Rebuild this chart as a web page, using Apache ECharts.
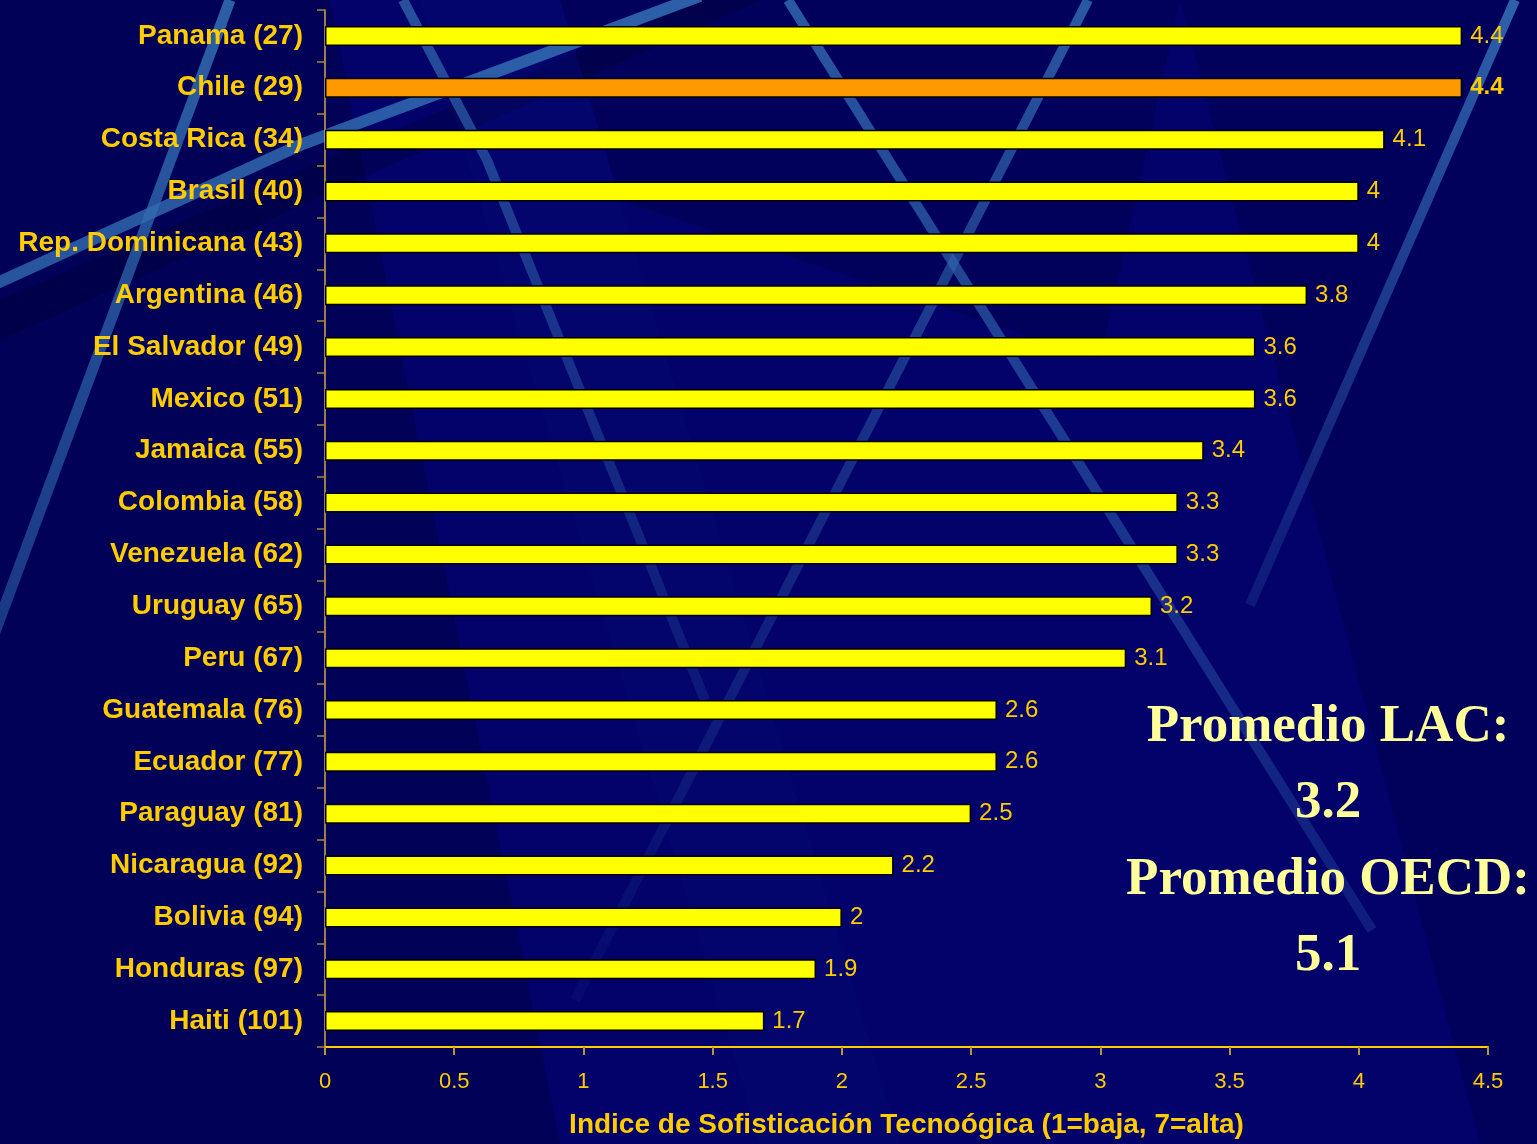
<!DOCTYPE html>
<html>
<head>
<meta charset="utf-8">
<title>Indice de Sofisticación Tecnológica</title>
<script src="https://cdn.jsdelivr.net/npm/echarts@6/dist/echarts.min.js"></script>
<style>
  html, body { margin: 0; padding: 0; background: #020268; overflow: hidden; }
  #chart { width: 1537px; height: 1144px; }
</style>
</head>
<body>
<div id="chart"></div>
<script>
// Países con su posición en el ranking entre paréntesis
const countries = [
  'Panama (27)', 'Chile (29)', 'Costa Rica (34)', 'Brasil (40)',
  'Rep. Dominicana (43)', 'Argentina (46)', 'El Salvador (49)', 'Mexico (51)',
  'Jamaica (55)', 'Colombia (58)', 'Venezuela (62)', 'Uruguay (65)',
  'Peru (67)', 'Guatemala (76)', 'Ecuador (77)', 'Paraguay (81)',
  'Nicaragua (92)', 'Bolivia (94)', 'Honduras (97)', 'Haiti (101)'
];
// Índice de sofisticación tecnológica (1 = baja, 7 = alta)
const scores = [4.4, 4.4, 4.1, 4, 4, 3.8, 3.6, 3.6, 3.4, 3.3, 3.3, 3.2, 3.1, 2.6, 2.6, 2.5, 2.2, 2, 1.9, 1.7];
const highlighted = 'Chile (29)';
const xTicks = { min: 0, max: 4.5, step: 0.5 };
const averages = ['Promedio LAC:', '3.2', 'Promedio OECD:', '5.1'];

const gold = '#FFCC00';
const sans = '"Liberation Sans", Arial, sans-serif';

// Fondo decorativo: bandas diagonales claras y sombras
function stripe(pts, w, c1, c2) {
  const a = pts[0], b = pts[pts.length - 1];
  return {
    type: 'polyline', z: -10, silent: true,
    shape: { points: pts },
    style: {
      lineWidth: w,
      stroke: new echarts.graphic.LinearGradient(a[0], a[1], b[0], b[1], [
        { offset: 0, color: c1 }, { offset: 1, color: c2 }
      ], true)
    }
  };
}
function shade(points, color) {
  return { type: 'polygon', z: -20, silent: true, shape: { points }, style: { fill: color } };
}

const decor = [
  shade([[0, 0], [330, 0], [560, 1144], [0, 1144]], 'rgba(0,0,45,0.3)'),
  shade([[0, 300], [700, 0], [760, 0], [0, 340]], 'rgba(0,0,30,0.25)'),
  shade([[560, 0], [1180, 0], [1100, 360], [620, 200]], 'rgba(0,0,35,0.2)'),
  shade([[1180, 0], [1537, 0], [1537, 1144], [1480, 1144]], 'rgba(0,0,40,0.2)'),
  shade([[420, 0], [560, 0], [900, 1144], [760, 1144]], 'rgba(10,20,120,0.2)'),
  stripe([[230, 0], [-8, 640]], 11, 'rgba(52,112,180,0.85)', 'rgba(45,100,170,0.55)'),
  stripe([[-5, 284], [300, 145], [700, -4]], 12, 'rgba(48,105,175,0.8)', 'rgba(52,112,182,0.85)'),
  stripe([[403, 0], [487, 160], [705, 700]], 10, 'rgba(48,100,170,0.8)', 'rgba(40,80,160,0.25)'),
  stripe([[788, 0], [1372, 930]], 10, 'rgba(52,110,180,0.8)', 'rgba(45,90,170,0.3)'),
  stripe([[1088, 0], [575, 1000]], 10, 'rgba(52,110,180,0.8)', 'rgba(40,70,150,0.1)'),
  stripe([[1515, 0], [1250, 605]], 10, 'rgba(55,115,185,0.85)', 'rgba(40,80,160,0.3)')
];

const avgText = averages.map((t, i) => ({
  type: 'text', z: 5,
  x: 1328, y: 727 + i * 76.5,
  style: {
    text: t,
    fill: '#FFFF99',
    font: 'bold 53px "Liberation Serif", "Times New Roman", serif',
    align: 'center', verticalAlign: 'middle'
  }
}));

const chart = echarts.init(document.getElementById('chart'), null, { renderer: 'canvas', width: 1537, height: 1144 });

chart.setOption({
  backgroundColor: '#02026a',
  animation: false,
  graphic: decor.concat(avgText),
  grid: { left: 325, right: 49, top: 10, bottom: 96, containLabel: false },
  xAxis: {
    type: 'value',
    min: xTicks.min, max: xTicks.max, interval: xTicks.step,
    name: 'Indice de Sofisticación Tecnoógica (1=baja, 7=alta)',
    nameLocation: 'middle',
    nameGap: 64,
    nameTextStyle: { color: gold, fontFamily: sans, fontWeight: 'bold', fontSize: 28 },
    axisLine: { show: true, lineStyle: { color: gold, width: 2 } },
    axisTick: { show: true, length: 8, lineStyle: { color: '#B8963A', width: 2 } },
    axisLabel: { color: gold, fontFamily: sans, fontSize: 22, margin: 24 },
    splitLine: { show: false }
  },
  yAxis: {
    type: 'category',
    inverse: true,
    data: countries,
    axisLine: { show: true, lineStyle: { color: '#D0A844', width: 1.5 } },
    axisTick: { show: true, length: 8, lineStyle: { color: '#A8863A', width: 1.5 } },
    axisLabel: { color: gold, fontFamily: sans, fontWeight: 'bold', fontSize: 28, margin: 22 }
  },
  series: [{
    type: 'bar',
    barWidth: 20,
    z: 3,
    data: scores.map((v, i) => {
      const hi = countries[i] === highlighted;
      return {
        value: v,
        itemStyle: { color: hi ? '#FF9900' : '#FFFF00' },
        label: hi ? { fontWeight: 'bold' } : undefined
      };
    }),
    itemStyle: { borderColor: '#000000', borderWidth: 1.5 },
    label: {
      show: true,
      position: 'right',
      distance: 8,
      color: gold,
      fontFamily: sans,
      fontSize: 24
    }
  }]
});
</script>
</body>
</html>
